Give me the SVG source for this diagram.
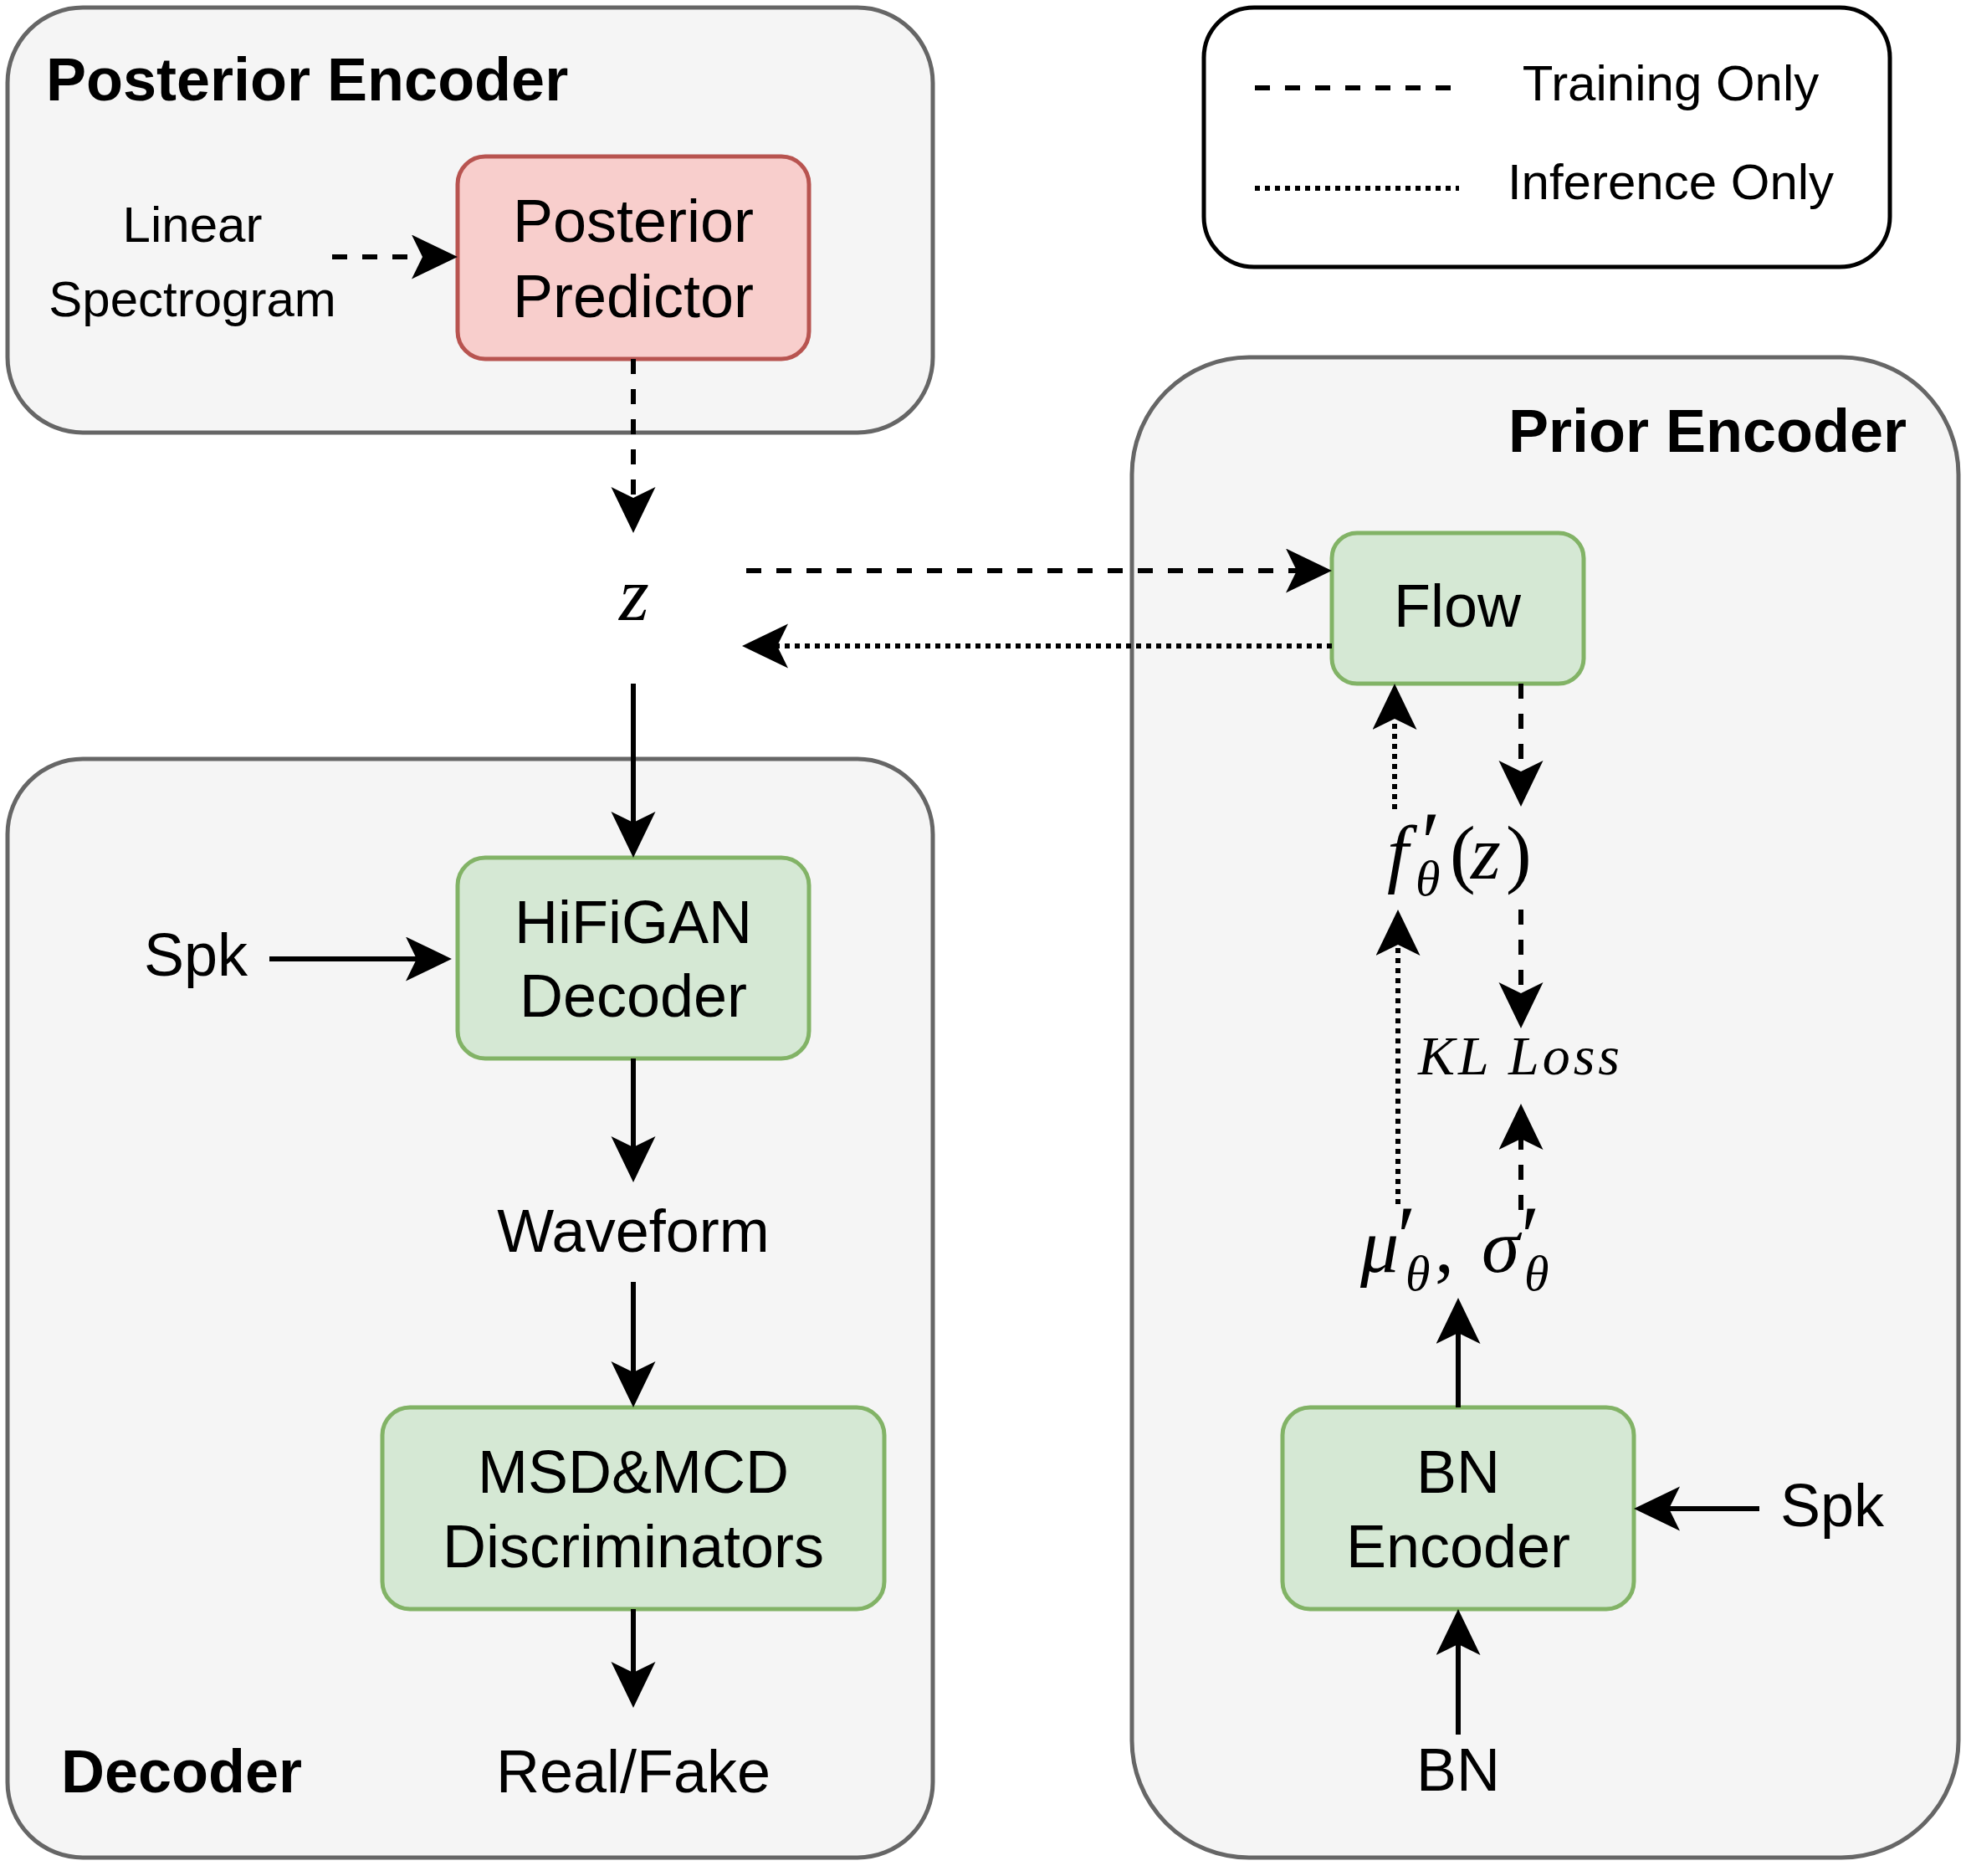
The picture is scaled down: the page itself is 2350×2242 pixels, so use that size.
<svg xmlns="http://www.w3.org/2000/svg" width="2350" height="2242" viewBox="0 0 2350 2242">
<defs>
<style>
.container{fill:#f5f5f5;stroke:#666666;stroke-width:5}
.green{fill:#d5e8d4;stroke:#82b366;stroke-width:5}
.red{fill:#f8cecc;stroke:#b85450;stroke-width:5}
.t{font-family:"Liberation Sans",Arial,sans-serif;font-size:72px;fill:#000}
.tb{font-family:"Liberation Sans",Arial,sans-serif;font-size:72px;font-weight:bold;fill:#000}
.ts{font-family:"Liberation Sans",Arial,sans-serif;font-size:60px;fill:#000}
.m{font-family:"Liberation Serif","Times New Roman",serif;font-style:italic;fill:#000}
.up{font-style:normal}
.c{text-anchor:middle}
.line{fill:none;stroke:#000;stroke-width:6}
.dash{stroke-dasharray:18 18}
.dot{stroke-dasharray:6 6}
</style>
<marker id="arr" markerUnits="userSpaceOnUse" markerWidth="56" markerHeight="54" refX="42" refY="26.5" orient="auto">
<path d="M0,0 L55,26.5 L0,53 L13,26.5 Z" fill="#000"/>
</marker>
</defs>
<rect width="2350" height="2242" fill="#ffffff"/>

<g id="posterior-encoder">
<rect class="container" x="9" y="9" width="1106" height="508" rx="90" ry="90"/>
<text class="tb" x="55" y="120">Posterior Encoder</text>
</g>
<g id="decoder">
<rect class="container" x="9" y="907" width="1106" height="1313" rx="90" ry="90"/>
<text class="tb" x="73" y="2142">Decoder</text>
</g>
<g id="prior-encoder">
<rect class="container" x="1353" y="427" width="988" height="1793" rx="140" ry="140"/>
<text class="tb" x="1803" y="540">Prior Encoder</text>
</g>

<g id="legend">
<rect x="1439" y="9" width="820" height="310" rx="60" ry="60" fill="#ffffff" stroke="#000" stroke-width="5"/>
<line class="line dash" x1="1500" y1="105" x2="1740" y2="105"/>
<line class="line dot" x1="1500" y1="225" x2="1744" y2="225"/>
<text class="ts c" x="1997" y="120">Training Only</text>
<text class="ts c" x="1997" y="238">Inference Only</text>
</g>

<g id="linear-spectrogram">
<text class="ts c" x="230" y="289">Linear</text>
<text class="ts c" x="230" y="378">Spectrogram</text>
</g>
<g id="posterior-predictor">
<rect class="red" x="547" y="187" width="420" height="242" rx="33" ry="33"/>
<text class="t c" x="757" y="289">Posterior</text>
<text class="t c" x="757" y="379">Predictor</text>
</g>
<g id="z">
<text class="m c" x="758" y="741" font-size="92">z</text>
</g>
<g id="flow">
<rect class="green" x="1592" y="637" width="301" height="180" rx="30" ry="30"/>
<text class="t c" x="1742" y="749">Flow</text>
</g>
<g id="f-theta-z">
<text class="m" font-size="92"><tspan x="1658" y="1050">f</tspan><tspan class="up" x="1699" y="1042" font-size="103">′</tspan><tspan x="1692" y="1070" font-size="60">θ</tspan><tspan class="up" x="1733" y="1050">(</tspan><tspan x="1758" y="1050">z</tspan><tspan class="up" x="1800" y="1050">)</tspan></text>
</g>
<g id="kl-loss">
<text class="m" x="1695" y="1284" font-size="66" textLength="241" lengthAdjust="spacing">KL Loss</text>
</g>
<g id="mu-sigma">
<text class="m" font-size="92"><tspan x="1626" y="1520">μ</tspan><tspan class="up" x="1670" y="1513" font-size="103">′</tspan><tspan x="1680" y="1542" font-size="60">θ</tspan><tspan class="up" x="1715" y="1520">,</tspan><tspan x="1771" y="1520">σ</tspan><tspan class="up" x="1818" y="1513" font-size="103">′</tspan><tspan x="1822" y="1542" font-size="60">θ</tspan></text>
</g>
<g id="bn-encoder">
<rect class="green" x="1533" y="1682" width="420" height="241" rx="33" ry="33"/>
<text class="t c" x="1743" y="1784">BN</text>
<text class="t c" x="1743" y="1873">Encoder</text>
</g>
<g id="spk-right">
<text class="t" x="2128" y="1824">Spk</text>
</g>
<g id="bn">
<text class="t c" x="1743" y="2140">BN</text>
</g>
<g id="spk-left">
<text class="t" x="172" y="1166">Spk</text>
</g>
<g id="hifigan-decoder">
<rect class="green" x="547" y="1025" width="420" height="240" rx="33" ry="33"/>
<text class="t c" x="757" y="1127">HiFiGAN</text>
<text class="t c" x="757" y="1215">Decoder</text>
</g>
<g id="waveform">
<text class="t c" x="757" y="1496">Waveform</text>
</g>
<g id="discriminators">
<rect class="green" x="457" y="1682" width="600" height="241" rx="33" ry="33"/>
<text class="t c" x="757" y="1784">MSD&amp;MCD</text>
<text class="t c" x="757" y="1873">Discriminators</text>
</g>
<g id="real-fake">
<text class="t c" x="757" y="2142">Real/Fake</text>
</g>

<g id="connectors">
<line class="line dash" x1="397" y1="307" x2="534" y2="307" marker-end="url(#arr)"/>
<line class="line dash" x1="757" y1="429" x2="757" y2="624" marker-end="url(#arr)"/>
<line class="line dash" x1="892" y1="682" x2="1579" y2="682" marker-end="url(#arr)"/>
<line class="line dot" x1="1592" y1="772" x2="900" y2="772" marker-end="url(#arr)"/>
<line class="line" x1="757" y1="817" x2="757" y2="1012" marker-end="url(#arr)"/>
<line class="line" x1="322" y1="1146" x2="527" y2="1146" marker-end="url(#arr)"/>
<line class="line" x1="757" y1="1265" x2="757" y2="1400" marker-end="url(#arr)"/>
<line class="line" x1="757" y1="1532" x2="757" y2="1669" marker-end="url(#arr)"/>
<line class="line" x1="757" y1="1923" x2="757" y2="2028" marker-end="url(#arr)"/>
<line class="line dash" x1="1818" y1="817" x2="1818" y2="951" marker-end="url(#arr)"/>
<line class="line dot" x1="1667" y1="967" x2="1667" y2="830" marker-end="url(#arr)"/>
<line class="line dot" x1="1671" y1="1439" x2="1671" y2="1100" marker-end="url(#arr)"/>
<line class="line dash" x1="1818" y1="1087" x2="1818" y2="1216" marker-end="url(#arr)"/>
<line class="line dash" x1="1818" y1="1446" x2="1818" y2="1332" marker-end="url(#arr)"/>
<line class="line" x1="1743" y1="1682" x2="1743" y2="1564" marker-end="url(#arr)"/>
<line class="line" x1="2103" y1="1803" x2="1966" y2="1803" marker-end="url(#arr)"/>
<line class="line" x1="1743" y1="2073" x2="1743" y2="1936" marker-end="url(#arr)"/>
</g>
</svg>
